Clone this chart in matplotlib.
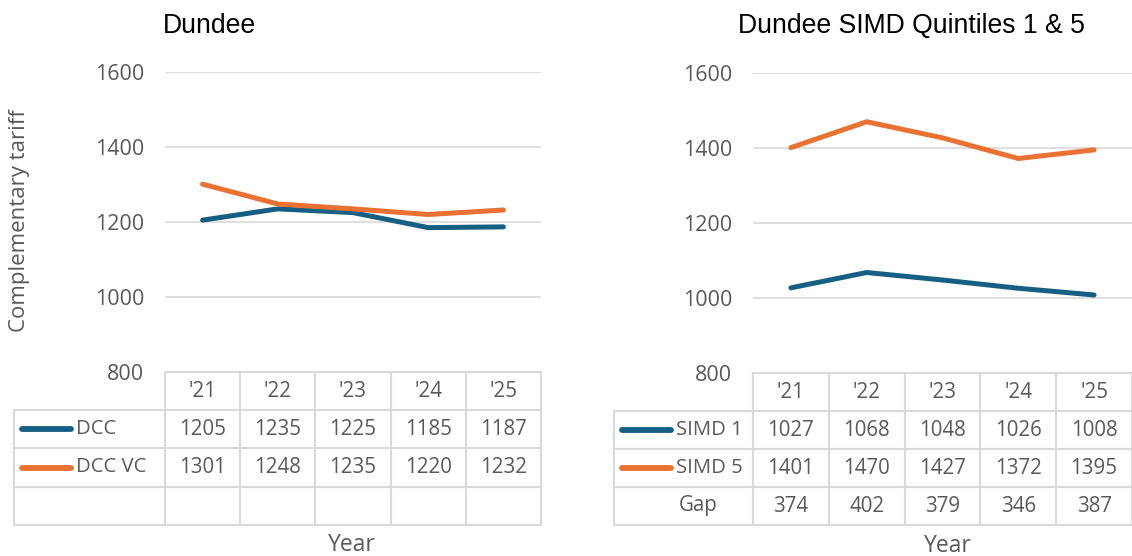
import matplotlib.pyplot as plt
from matplotlib.lines import Line2D

years = ["'21", "'22", "'23", "'24", "'25"]

dcc = [1205, 1235, 1225, 1185, 1187]
dcc_vc = [1301, 1248, 1235, 1220, 1232]

simd1 = [1027, 1068, 1048, 1026, 1008]
simd5 = [1401, 1470, 1427, 1372, 1395]
gap = [374, 402, 379, 346, 387]

yticks = [800, 1000, 1200, 1400, 1600]

BLUE = '#156082'
ORANGE = '#E97132'
GREY = '#595959'
GRID = '#D9D9D9'
W, H = 1132, 556
GFONT = ['Open Sans', 'DejaVu Sans']

plt.rcParams['font.family'] = ['Liberation Sans', 'DejaVu Sans']

fig = plt.figure(figsize=(W / 100, H / 100), dpi=100)

# overlay axes in pixel coordinates for tables and labels
ov = fig.add_axes([0, 0, 1, 1])
ov.set_xlim(0, W)
ov.set_ylim(H, 0)
ov.axis('off')


def line_axes(x0, x1, ybot, ytop):
    ax = fig.add_axes([x0 / W, (H - ybot) / H, (x1 - x0) / W, (ybot - ytop) / H])
    ax.set_xlim(-0.5, len(years) - 0.5)
    ax.set_ylim(800, 1600)
    ax.set_yticks(yticks)
    ax.set_xticks([])
    for s in ax.spines.values():
        s.set_visible(False)
    ax.grid(axis='y', color=GRID, lw=1.2)
    ax.set_axisbelow(True)
    ax.tick_params(axis='y', length=0, labelsize=15.5, labelcolor=GREY, pad=15)
    for t in ax.get_yticklabels():
        t.set_family(GFONT)
    ax.patch.set_alpha(0)
    return ax


def draw_table(x0, x1, lx0, rows, ytop, row_h):
    # rows: list of (label, color or None, values, label_x or None)
    colw = (x1 - x0) / len(years)
    nrows = len(rows) + 1
    for i in range(len(years) + 1):
        xx = x0 + i * colw
        ov.plot([xx, xx], [ytop, ytop + nrows * row_h], color=GRID, lw=1.5)
    ov.plot([x0, x1], [ytop, ytop], color=GRID, lw=1.5)
    ov.plot([lx0, lx0], [ytop + row_h, ytop + nrows * row_h], color=GRID, lw=1.5)
    for r in range(1, nrows + 1):
        ov.plot([lx0, x1], [ytop + r * row_h] * 2, color=GRID, lw=1.5)
    for i, yr in enumerate(years):
        ov.text(x0 + (i + 0.5) * colw, ytop + 0.5 * row_h, yr, ha='center', va='center',
                fontsize=14.8, color=GREY, family=GFONT)
    for r, (label, col, vals, lab_x) in enumerate(rows):
        yc = ytop + (r + 1.5) * row_h
        if col is not None:
            ov.add_line(Line2D([lx0 + 8, lx0 + 57], [yc, yc], color=col, lw=4.2,
                               solid_capstyle='round'))
            ov.text(lx0 + 62, yc, label, ha='left', va='center', fontsize=14.6,
                    color=GREY, family=GFONT)
        elif label:
            ov.text(lab_x, yc, label, ha='center', va='center', fontsize=14.8,
                    color=GREY, family=GFONT)
        if vals is not None:
            for i, v in enumerate(vals):
                ov.text(x0 + (i + 0.5) * colw, yc, str(v), ha='center', va='center',
                        fontsize=14.8, color=GREY, family=GFONT)


# left panel
ax1 = line_axes(165, 541, 372, 72)
x = range(len(years))
ax1.plot(x, dcc, color=BLUE, lw=3.6, solid_capstyle='round')
ax1.plot(x, dcc_vc, color=ORANGE, lw=3.6, solid_capstyle='round')
draw_table(165, 541, 14, [('DCC', BLUE, dcc, None),
                          ('DCC VC', ORANGE, dcc_vc, None),
                          ('', None, None, None)], 372, 38.2)
ov.text(163, 26, 'Dundee', ha='left', va='center', fontsize=19.2, color='black')
ov.text(20, 221, 'Complementary tariff', rotation=90, ha='center', va='center',
        fontsize=16, color=GREY, family=GFONT)
ov.text(352, 545, 'Year', ha='center', va='center', fontsize=16.5, color=GREY,
        family=GFONT)

# right panel
ax2 = line_axes(753, 1132, 373, 73)
ax2.plot(x, simd1, color=BLUE, lw=3.6, solid_capstyle='round')
ax2.plot(x, simd5, color=ORANGE, lw=3.6, solid_capstyle='round')
draw_table(753, 1132, 614, [('SIMD 1', BLUE, simd1, None),
                            ('SIMD 5', ORANGE, simd5, None),
                            ('Gap', None, gap, 698)], 373, 38.0)
ov.text(911, 26, 'Dundee SIMD Quintiles 1 & 5', ha='center', va='center',
        fontsize=19.2, color='black')
ov.text(948, 546, 'Year', ha='center', va='center', fontsize=16.5, color=GREY,
        family=GFONT)

fig.savefig('out.png', dpi=100)
